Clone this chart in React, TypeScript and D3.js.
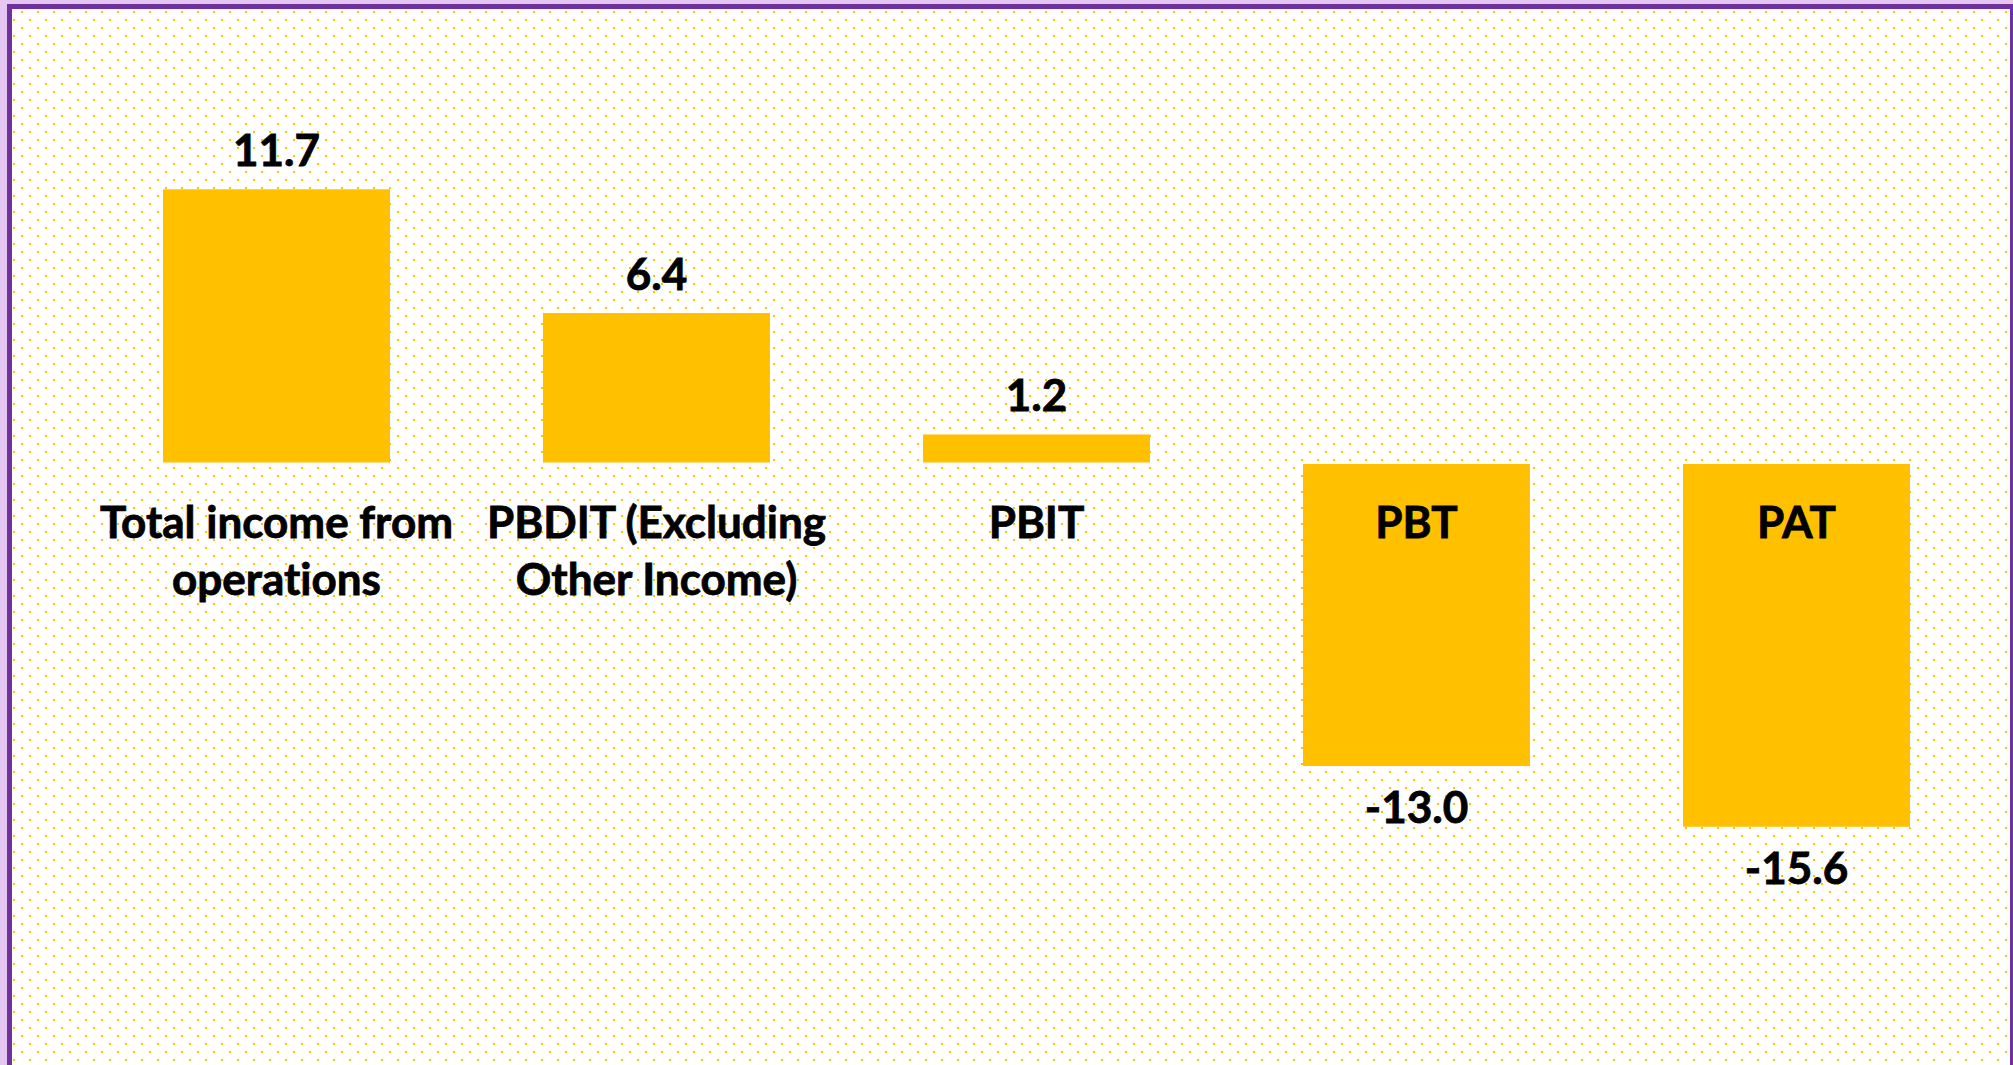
import React, { useEffect } from "react";
import * as d3 from "d3";

// Financial snapshot values
const categories = ["Total income from operations", "PBDIT (Excluding Other Income)", "PBIT", "PBT", "PAT"];
const labelLines = [
  ["Total income from", "operations"],
  ["PBDIT (Excluding", "Other Income)"],
  ["PBIT"],
  ["PBT"],
  ["PAT"],
];
const values = [11.7, 6.4, 1.2, -13.0, -15.6];

const W = 2013;
const H = 1065;
const FONT = "Lato, 'Open Sans', sans-serif";

export default function App() {
  useEffect(() => {
    document.body.style.margin = "0";
    document.body.style.overflow = "hidden";
  }, []);

  const xScale = d3
    .scaleBand()
    .domain(categories)
    .range([86.5, 1986.5])
    .paddingInner(0.4026)
    .paddingOuter(0.2013);

  const yScale = d3.scaleLinear().domain([0, 10]).range([462.5, 229]);
  const y0 = yScale(0);

  const textStyle = {
    fontFamily: FONT,
    fontWeight: "bold" as const,
    fontSize: 44,
    fontVariantLigatures: "none" as const,
  };

  return (
    <svg width={W} height={H} style={{ display: "block" }}>
      <defs>
        <pattern id="dots" x={6} y={3} width={16} height={16} patternUnits="userSpaceOnUse">
          <rect x={7} y={0} width={2} height={2} fill="#FFC000" />
          <rect x={-1} y={8} width={2} height={2} fill="#FFC000" />
          <rect x={15} y={8} width={2} height={2} fill="#FFC000" />
        </pattern>
      </defs>

      {/* outer frame */}
      <rect x={0} y={0} width={W} height={H} fill="#E6C7F1" />
      <rect x={7} y={4} width={W - 7} height={H - 4} fill="#7030A0" />
      <rect x={12} y={9} width={1998} height={H - 9} fill="#ffffff" />
      <rect x={12} y={9} width={1998} height={H - 9} fill="url(#dots)" />

      {/* bars */}
      {values.map((v, i) => (
        <rect
          key={`bar-${i}`}
          x={xScale(categories[i])}
          y={v >= 0 ? yScale(v) : y0 + 1.5}
          width={xScale.bandwidth()}
          height={v >= 0 ? y0 - yScale(v) : yScale(v) - y0 - 1.5}
          fill="#FFC000"
        />
      ))}

      {/* category labels */}
      {labelLines.map((lines, i) => (
        <text
          key={`cat-${i}`}
          x={xScale(categories[i])! + xScale.bandwidth() / 2}
          y={y0 + 75.5}
          textAnchor="middle"
          style={textStyle}
          fill="#000"
          stroke="#000"
          strokeWidth={0.8}
        >
          {lines.map((l, j) => (
            <tspan key={j} x={xScale(categories[i])! + xScale.bandwidth() / 2} dy={j === 0 ? 0 : 57}>
              {l}
            </tspan>
          ))}
        </text>
      ))}

      {/* value labels */}
      {values.map((v, i) => (
        <text
          key={`val-${i}`}
          x={xScale(categories[i])! + xScale.bandwidth() / 2}
          y={v >= 0 ? yScale(v) - 23 : yScale(v) + 57}
          textAnchor="middle"
          style={textStyle}
          fill="#000"
          stroke="#000"
          strokeWidth={0.8}
        >
          {v.toFixed(1)}
        </text>
      ))}
    </svg>
  );
}
